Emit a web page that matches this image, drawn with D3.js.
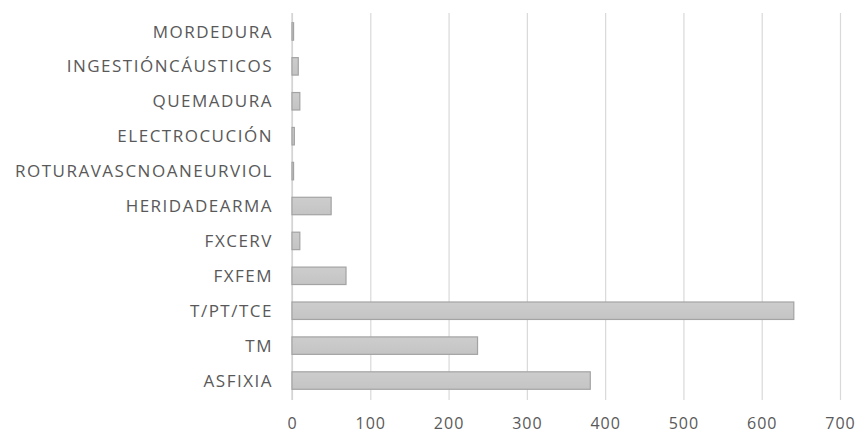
<!DOCTYPE html>
<html>
<head>
<meta charset="utf-8">
<script src="https://cdn.jsdelivr.net/npm/d3@7"></script>
<style>
  html, body { margin: 0; padding: 0; background: #ffffff; }
  svg { display: block; }
  .lbl { font-family: "Open Sans", sans-serif; font-size: 17px; fill: #595959; letter-spacing: 1.5px; }
  .num { font-family: "Open Sans", sans-serif; font-size: 16px; fill: #595959; letter-spacing: 1px; }
</style>
</head>
<body>
<svg id="chart" width="858" height="434"></svg>
<script>
// Categories, listed top to bottom
const categories = [
  "MORDEDURA", "INGESTIÓNCÁUSTICOS", "QUEMADURA", "ELECTROCUCIÓN",
  "ROTURAVASCNOANEURVIOL", "HERIDADEARMA", "FXCERV", "FXFEM",
  "T/PT/TCE", "TM", "ASFIXIA"
];
// Case counts per category
const values = [2, 8, 10, 3, 2, 50, 10, 69, 641, 237, 381];
// Value axis ticks
const xTicks = [0, 100, 200, 300, 400, 500, 600, 700];

const svg = d3.select("#chart");
const plot = { left: 292, right: 840, top: 13, bottom: 400 };

const x = d3.scaleLinear().domain([0, 700]).range([plot.left, plot.right]);
const y = d3.scaleBand()
  .domain(categories)
  .range([14, 398])
  .paddingInner(0.5)
  .paddingOuter(0.25);

// Vertical gridlines
svg.append("g")
  .attr("transform", `translate(0,${plot.bottom})`)
  .call(d3.axisBottom(x).tickValues(xTicks).tickSize(-(plot.bottom - plot.top)).tickFormat(""))
  .call(g => g.select(".domain").remove())
  .call(g => g.selectAll("line").attr("stroke", "#d9d9d9").attr("stroke-width", 1.2));

// Category axis line
svg.append("line")
  .attr("x1", x(0)).attr("x2", x(0))
  .attr("y1", plot.top).attr("y2", plot.bottom)
  .attr("stroke", "#d0d0d0").attr("stroke-width", 1.2);

// Bars
const grad = svg.append("defs").append("linearGradient")
  .attr("id", "barFill").attr("x1", 0).attr("y1", 0).attr("x2", 0).attr("y2", 1);
grad.append("stop").attr("offset", "0%").attr("stop-color", "#cdcdcd");
grad.append("stop").attr("offset", "100%").attr("stop-color", "#c4c4c4");

svg.append("g").selectAll("rect")
  .data(categories)
  .join("rect")
  .attr("x", x(0))
  .attr("y", d => y(d))
  .attr("width", (d, i) => x(values[i]) - x(0))
  .attr("height", y.bandwidth())
  .attr("fill", "url(#barFill)")
  .attr("stroke", "#a3a3a3")
  .attr("stroke-width", 1.2);

// Category labels
svg.append("g")
  .attr("transform", `translate(${x(0) - 19},0)`)
  .call(d3.axisLeft(y).tickSize(0).tickPadding(0))
  .call(g => g.select(".domain").remove())
  .call(g => g.selectAll("text")
    .attr("class", "lbl")
    .attr("font-family", null).attr("font-size", null)
    .attr("fill", null)
    .attr("dy", "0.36em"));

// Value labels
svg.append("g")
  .attr("transform", `translate(0,${plot.bottom})`)
  .call(d3.axisBottom(x).tickValues(xTicks).tickSize(0).tickPadding(0))
  .call(g => g.select(".domain").remove())
  .call(g => g.selectAll("text")
    .attr("class", "num")
    .attr("font-family", null).attr("font-size", null)
    .attr("fill", null)
    .attr("y", 29).attr("dy", null));
</script>
</body>
</html>
